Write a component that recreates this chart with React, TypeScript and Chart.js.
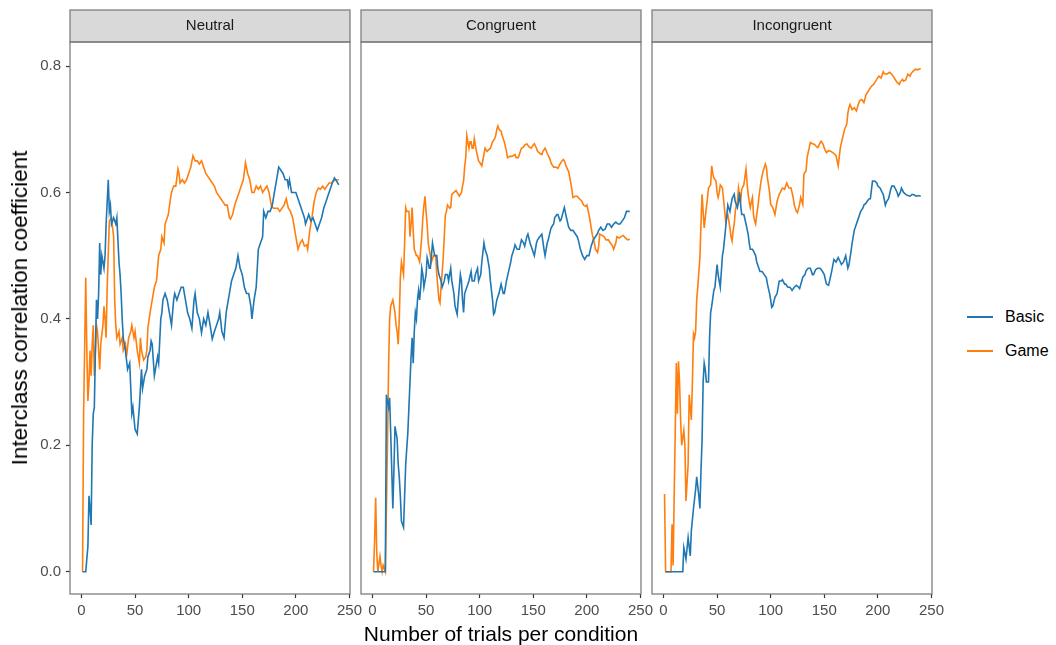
import { useEffect, useRef } from 'react';
import { Chart, registerables } from 'chart.js';

Chart.register(...registerables);

const FONT = '"Liberation Sans", Arial, Helvetica, sans-serif';

const facets = ['Neutral', 'Congruent', 'Incongruent'];
const seriesNames = ['Basic', 'Game'];
const seriesColors = ['#1f77b4', '#ff7f0e'];
const xTicks = [0, 50, 100, 150, 200, 250];
const yTicks = [0, 0.2, 0.4, 0.6, 0.8];
const xTitle = 'Number of trials per condition';
const yTitle = 'Interclass correlation coefficient';

type Pt = [number, number];

const neutralBasic: Pt[] = [[1,0],[4,0],[6,0.04],[7,0.12],[8,0.10],[9,0.074],[10,0.2],[11,0.25],[12,0.26],[13,0.35],[14,0.43],[15,0.40],[16,0.44],[17,0.52],[18,0.47],[19,0.50],[21,0.48],[22,0.50],[23,0.55],[25,0.62],[26,0.57],[27,0.58],[28,0.55],[30,0.56],[32,0.55],[33,0.56],[35,0.49],[36,0.47],[37,0.44],[38,0.40],[39,0.37],[41,0.35],[43,0.32],[45,0.33],[46,0.29],[47,0.25],[48,0.26],[50,0.225],[52,0.218],[54,0.26],[56,0.32],[57,0.29],[59,0.31],[61,0.32],[62,0.34],[64,0.35],[65,0.365],[66,0.36],[68,0.31],[69,0.32],[71,0.34],[72,0.33],[74,0.40],[75,0.41],[76,0.43],[78,0.44],[80,0.43],[82,0.41],[84,0.39],[86,0.43],[87,0.44],[89,0.43],[91,0.44],[93,0.45],[95,0.45],[97,0.43],[99,0.41],[101,0.40],[103,0.385],[105,0.43],[106,0.44],[108,0.41],[110,0.40],[112,0.378],[114,0.40],[116,0.39],[118,0.41],[120,0.39],[122,0.368],[124,0.38],[126,0.39],[128,0.40],[129,0.41],[131,0.38],[133,0.37],[135,0.41],[136,0.42],[138,0.44],[140,0.46],[142,0.47],[144,0.48],[146,0.50],[148,0.48],[150,0.47],[152,0.45],[154,0.44],[156,0.44],[158,0.42],[159,0.40],[161,0.43],[163,0.45],[165,0.51],[167,0.52],[169,0.53],[170,0.57],[172,0.56],[174,0.57],[176,0.57],[178,0.58],[180,0.60],[182,0.62],[184,0.64],[186,0.635],[188,0.63],[190,0.62],[192,0.62],[193,0.61],[194,0.62],[196,0.60],[198,0.60],[200,0.6],[202,0.59],[204,0.58],[206,0.57],[208,0.56],[209,0.55],[211,0.56],[212,0.565],[214,0.555],[216,0.56],[218,0.55],[220,0.54],[222,0.55],[224,0.56],[226,0.575],[228,0.585],[230,0.595],[232,0.605],[234,0.615],[236,0.623],[238,0.618],[240,0.612]];

const neutralGame: Pt[] = [[1,0],[2,0.25],[4,0.465],[5,0.35],[6,0.27],[7,0.30],[8,0.35],[9,0.31],[10,0.36],[11,0.39],[12,0.31],[13,0.35],[14,0.39],[15,0.38],[17,0.32],[18,0.36],[20,0.39],[21,0.42],[22,0.40],[23,0.37],[24,0.45],[26,0.555],[28,0.56],[30,0.53],[31,0.43],[32,0.39],[33,0.37],[35,0.38],[36,0.36],[38,0.37],[39,0.35],[41,0.36],[42,0.34],[44,0.37],[46,0.38],[47,0.39],[49,0.37],[50,0.38],[52,0.35],[54,0.33],[55,0.37],[56,0.35],[58,0.335],[60,0.34],[61,0.35],[62,0.386],[64,0.41],[66,0.43],[68,0.45],[70,0.46],[72,0.50],[74,0.51],[75,0.53],[77,0.52],[78,0.55],[80,0.56],[81,0.565],[83,0.59],[84,0.60],[86,0.61],[88,0.61],[90,0.637],[91,0.63],[92,0.615],[94,0.62],[96,0.615],[98,0.62],[100,0.63],[102,0.64],[104,0.658],[106,0.65],[108,0.65],[110,0.645],[112,0.65],[114,0.64],[116,0.63],[118,0.625],[120,0.62],[122,0.615],[124,0.61],[126,0.60],[128,0.595],[130,0.59],[132,0.585],[134,0.58],[136,0.58],[138,0.56],[139,0.558],[141,0.565],[143,0.58],[145,0.59],[147,0.60],[149,0.61],[151,0.62],[153,0.647],[155,0.63],[157,0.62],[159,0.60],[161,0.60],[163,0.61],[165,0.605],[167,0.61],[169,0.60],[171,0.605],[173,0.61],[175,0.60],[177,0.58],[179,0.575],[181,0.575],[183,0.575],[185,0.57],[187,0.575],[189,0.58],[191,0.59],[193,0.575],[195,0.57],[197,0.56],[199,0.54],[200,0.53],[202,0.51],[204,0.52],[206,0.525],[208,0.515],[210,0.517],[211,0.51],[213,0.54],[215,0.56],[217,0.585],[219,0.60],[221,0.607],[223,0.605],[225,0.61],[227,0.605],[229,0.61],[231,0.615],[233,0.615],[235,0.618],[237,0.62],[240,0.62]];

const congruentBasic: Pt[] = [[1,0],[12,0],[13,0.28],[15,0.26],[16,0.275],[17,0.22],[19,0.10],[20,0.16],[21,0.23],[22,0.22],[23,0.21],[24,0.17],[25,0.15],[26,0.12],[27,0.08],[29,0.07],[30,0.12],[31,0.17],[33,0.22],[34,0.26],[36,0.34],[37,0.37],[38,0.33],[39,0.38],[40,0.41],[41,0.40],[42,0.43],[43,0.445],[44,0.43],[45,0.45],[46,0.48],[47,0.47],[48,0.45],[49,0.46],[50,0.47],[51,0.497],[52,0.49],[53,0.48],[54,0.48],[55,0.50],[56,0.52],[57,0.51],[58,0.50],[60,0.50],[61,0.48],[62,0.47],[64,0.46],[65,0.45],[67,0.46],[68,0.47],[70,0.47],[71,0.46],[73,0.48],[74,0.46],[76,0.44],[77,0.42],[79,0.407],[80,0.43],[81,0.45],[82,0.47],[83,0.46],[84,0.43],[85,0.41],[86,0.44],[88,0.45],[90,0.46],[92,0.475],[93,0.46],[95,0.46],[96,0.47],[98,0.48],[99,0.46],[101,0.47],[102,0.49],[104,0.52],[105,0.51],[107,0.50],[109,0.48],[110,0.46],[112,0.43],[113,0.407],[114,0.41],[116,0.43],[118,0.44],[120,0.455],[122,0.44],[123,0.44],[125,0.46],[127,0.475],[129,0.49],[130,0.50],[132,0.51],[133,0.517],[135,0.51],[137,0.51],[139,0.525],[141,0.52],[142,0.515],[144,0.53],[145,0.534],[147,0.52],[149,0.51],[151,0.50],[153,0.52],[154,0.525],[156,0.53],[158,0.534],[160,0.51],[161,0.50],[163,0.52],[164,0.525],[166,0.54],[167,0.545],[169,0.55],[170,0.56],[172,0.565],[173,0.565],[175,0.555],[176,0.557],[178,0.57],[179,0.576],[181,0.56],[183,0.545],[185,0.54],[187,0.54],[189,0.535],[191,0.53],[192,0.525],[194,0.51],[196,0.50],[198,0.494],[200,0.50],[202,0.50],[204,0.515],[206,0.525],[208,0.53],[210,0.535],[211,0.54],[213,0.545],[215,0.54],[217,0.542],[219,0.55],[221,0.55],[223,0.545],[225,0.55],[227,0.553],[229,0.55],[231,0.55],[233,0.555],[235,0.56],[237,0.57],[240,0.57]];

const congruentGame: Pt[] = [[1,0],[2,0.05],[3,0.117],[4,0.03],[5,0],[7,0.024],[8,0.01],[9,0],[10,0.01],[12,0],[13,0.1],[14,0.2],[15,0.32],[16,0.40],[17,0.42],[19,0.43],[20,0.42],[21,0.41],[22,0.39],[23,0.38],[24,0.36],[25,0.40],[26,0.465],[27,0.49],[28,0.48],[29,0.47],[30,0.52],[31,0.576],[32,0.57],[34,0.57],[35,0.53],[36,0.55],[37,0.576],[38,0.54],[39,0.51],[41,0.50],[42,0.50],[44,0.49],[45,0.51],[46,0.53],[47,0.56],[48,0.58],[49,0.594],[50,0.57],[51,0.55],[52,0.52],[54,0.50],[55,0.49],[57,0.50],[59,0.50],[60,0.47],[62,0.43],[63,0.425],[64,0.45],[66,0.497],[67,0.53],[68,0.565],[69,0.57],[70,0.58],[72,0.575],[73,0.576],[74,0.597],[76,0.60],[78,0.603],[79,0.60],[81,0.594],[83,0.60],[84,0.61],[85,0.618],[86,0.64],[87,0.655],[88,0.69],[89,0.68],[90,0.67],[91,0.68],[92,0.68],[93,0.67],[94,0.67],[95,0.685],[96,0.675],[97,0.665],[99,0.65],[101,0.645],[102,0.642],[104,0.66],[105,0.67],[107,0.665],[108,0.667],[110,0.67],[112,0.68],[114,0.685],[115,0.69],[116,0.70],[117,0.705],[118,0.70],[120,0.697],[121,0.69],[123,0.68],[125,0.665],[126,0.655],[128,0.657],[130,0.657],[133,0.66],[134,0.655],[136,0.655],[138,0.665],[139,0.67],[141,0.672],[142,0.675],[144,0.677],[146,0.672],[148,0.67],[150,0.675],[151,0.677],[153,0.67],[154,0.665],[156,0.662],[158,0.66],[159,0.665],[161,0.67],[163,0.662],[165,0.655],[167,0.645],[169,0.64],[171,0.64],[173,0.638],[175,0.645],[176,0.648],[178,0.652],[179,0.65],[181,0.64],[183,0.633],[185,0.615],[186,0.605],[187,0.592],[189,0.594],[191,0.594],[193,0.59],[195,0.587],[197,0.58],[199,0.578],[200,0.58],[202,0.565],[203,0.555],[205,0.534],[207,0.52],[208,0.51],[210,0.505],[211,0.515],[212,0.534],[214,0.532],[216,0.53],[218,0.525],[220,0.525],[222,0.52],[224,0.515],[225,0.51],[227,0.52],[228,0.53],[230,0.528],[232,0.53],[234,0.532],[236,0.528],[238,0.525],[240,0.526]];

const incongruentBasic: Pt[] = [[2,0],[18,0],[19,0.038],[21,0.02],[23,0.054],[25,0.025],[26,0.065],[28,0.10],[30,0.13],[31,0.15],[33,0.12],[34,0.10],[35,0.16],[36,0.207],[37,0.30],[38,0.33],[39,0.32],[40,0.30],[42,0.30],[43,0.37],[44,0.41],[45,0.42],[47,0.445],[48,0.45],[50,0.486],[51,0.47],[53,0.45],[55,0.50],[56,0.51],[58,0.544],[60,0.58],[61,0.575],[62,0.57],[64,0.59],[66,0.597],[67,0.585],[69,0.576],[70,0.585],[71,0.60],[72,0.58],[73,0.565],[75,0.565],[77,0.55],[79,0.534],[80,0.52],[81,0.51],[83,0.51],[84,0.507],[86,0.50],[87,0.49],[89,0.48],[90,0.475],[92,0.475],[94,0.47],[96,0.465],[97,0.455],[99,0.44],[100,0.43],[101,0.418],[102,0.42],[104,0.434],[106,0.44],[108,0.46],[110,0.46],[111,0.462],[113,0.455],[114,0.455],[116,0.45],[118,0.45],[120,0.445],[122,0.45],[124,0.453],[126,0.45],[127,0.448],[129,0.46],[130,0.466],[132,0.47],[133,0.476],[135,0.48],[137,0.48],[139,0.47],[140,0.47],[142,0.478],[144,0.48],[146,0.48],[148,0.476],[150,0.47],[152,0.455],[154,0.453],[155,0.46],[157,0.476],[159,0.494],[161,0.49],[163,0.497],[165,0.49],[166,0.486],[168,0.49],[170,0.50],[172,0.48],[173,0.485],[175,0.507],[176,0.52],[178,0.54],[180,0.55],[181,0.555],[183,0.565],[184,0.57],[186,0.575],[187,0.58],[189,0.583],[190,0.586],[192,0.59],[193,0.59],[195,0.618],[197,0.618],[199,0.615],[200,0.61],[202,0.607],[204,0.6],[205,0.597],[207,0.58],[208,0.585],[210,0.59],[212,0.605],[213,0.61],[215,0.61],[216,0.607],[218,0.6],[219,0.594],[221,0.6],[222,0.607],[224,0.6],[226,0.597],[228,0.595],[230,0.594],[232,0.597],[234,0.596],[236,0.594],[238,0.595],[240,0.594]];

const incongruentGame: Pt[] = [[1,0.123],[2,0],[7,0],[8,0.075],[9,0.01],[10,0.12],[12,0.33],[13,0.25],[14,0.333],[15,0.3],[16,0.24],[17,0.20],[19,0.224],[20,0.20],[21,0.112],[22,0.14],[23,0.17],[24,0.28],[25,0.26],[26,0.24],[27,0.30],[28,0.376],[29,0.37],[30,0.38],[31,0.43],[32,0.45],[34,0.497],[35,0.55],[36,0.597],[37,0.57],[38,0.544],[39,0.56],[40,0.576],[41,0.59],[42,0.607],[44,0.612],[45,0.642],[46,0.63],[47,0.623],[49,0.618],[50,0.60],[51,0.592],[52,0.60],[53,0.612],[55,0.607],[56,0.59],[58,0.555],[59,0.56],[60,0.565],[62,0.544],[63,0.53],[64,0.523],[65,0.54],[66,0.55],[67,0.57],[68,0.58],[69,0.586],[70,0.607],[71,0.595],[72,0.586],[73,0.605],[75,0.612],[76,0.625],[77,0.637],[78,0.615],[79,0.597],[80,0.585],[81,0.576],[82,0.585],[83,0.592],[84,0.565],[85,0.555],[86,0.55],[87,0.565],[88,0.576],[89,0.592],[91,0.618],[93,0.634],[95,0.645],[96,0.64],[97,0.623],[99,0.60],[100,0.581],[102,0.576],[104,0.565],[106,0.586],[108,0.597],[109,0.60],[111,0.607],[113,0.605],[115,0.615],[117,0.607],[119,0.607],[121,0.592],[122,0.58],[124,0.57],[125,0.568],[127,0.581],[128,0.592],[130,0.581],[131,0.629],[133,0.634],[134,0.655],[136,0.671],[137,0.679],[139,0.677],[141,0.676],[143,0.672],[144,0.671],[146,0.678],[147,0.681],[149,0.676],[150,0.67],[152,0.663],[154,0.666],[156,0.665],[158,0.663],[160,0.66],[161,0.658],[162,0.65],[163,0.642],[165,0.671],[167,0.686],[169,0.70],[171,0.708],[172,0.725],[173,0.734],[174,0.739],[176,0.731],[178,0.734],[180,0.729],[181,0.735],[183,0.745],[185,0.747],[187,0.742],[189,0.755],[191,0.76],[192,0.763],[194,0.768],[196,0.771],[198,0.776],[200,0.782],[201,0.784],[203,0.781],[205,0.791],[206,0.788],[208,0.787],[210,0.789],[211,0.79],[213,0.787],[215,0.782],[216,0.779],[218,0.774],[220,0.771],[221,0.775],[223,0.779],[224,0.776],[226,0.778],[228,0.787],[230,0.784],[231,0.788],[233,0.792],[235,0.795],[237,0.794],[240,0.796]];

const facetData: Pt[][][] = [
  [neutralBasic, neutralGame],
  [congruentBasic, congruentGame],
  [incongruentBasic, incongruentGame],
];

const X_MIN = -10.7;
const X_MAX = 250.5;
const Y_MIN = -0.0353;
const Y_MAX = 0.838;

const PANEL_LEFTS = [70, 361, 652];
const PANEL_W = 280;
const STRIP_TOP = 10;
const BORDER = '#7f7f7f';

const stripPlugin = {
  id: 'stripBg',
  beforeDraw(chart: any) {
    const { ctx, chartArea } = chart;
    const { left, right, top } = chartArea;
    ctx.save();
    ctx.fillStyle = '#d9d9d9';
    ctx.fillRect(left, STRIP_TOP, right - left, top - STRIP_TOP);
    ctx.strokeStyle = BORDER;
    ctx.lineWidth = 1.3;
    ctx.strokeRect(left, STRIP_TOP, right - left, top - STRIP_TOP);
    ctx.restore();
  },
};

const borderPlugin = {
  id: 'panelBorder',
  afterDatasetsDraw(chart: any) {
    const { ctx, chartArea } = chart;
    const { left, right, top, bottom } = chartArea;
    ctx.save();
    ctx.strokeStyle = BORDER;
    ctx.lineWidth = 1.3;
    ctx.strokeRect(left, top, right - left, bottom - top);
    ctx.restore();
  },
};

function Panel({ index }: { index: number }) {
  const ref = useRef<HTMLCanvasElement | null>(null);
  const first = index === 0;
  const padLeft = first ? 0 : 10;
  const padRight = 16;
  const canvasLeft = first ? 0 : PANEL_LEFTS[index] - padLeft;
  const canvasWidth = first ? PANEL_LEFTS[0] + PANEL_W + padRight : padLeft + PANEL_W + padRight;

  useEffect(() => {
    const tickFont = { family: FONT, size: 15 };
    const yScale: any = {
      type: 'linear',
      display: first,
      min: Y_MIN,
      max: Y_MAX,
      afterBuildTicks: (s: any) => { s.ticks = yTicks.map((v) => ({ value: v })); },
      ticks: { color: '#4d4d4d', font: tickFont, padding: 5, autoSkip: false, callback: (v: any) => Number(v).toFixed(1) },
      grid: { drawOnChartArea: false, drawTicks: true, tickLength: 4, tickColor: '#333333', tickWidth: 1.2 },
      border: { display: false },
    };
    if (first) yScale.afterFit = (s: any) => { s.width = PANEL_LEFTS[0]; };
    const chart = new Chart(ref.current as HTMLCanvasElement, {
      type: 'line',
      data: {
        datasets: seriesNames.map((name, i) => ({
          label: name,
          data: facetData[index][i].map(([x, y]) => ({ x, y })),
          borderColor: seriesColors[i],
          backgroundColor: seriesColors[i],
          borderWidth: 1.6,
          pointRadius: 0,
          fill: false,
          tension: 0,
        })),
      },
      options: {
        responsive: false,
        animation: false,
        events: [],
        parsing: false,
        layout: { padding: { left: padLeft, right: padRight, top: 0, bottom: 0 } },
        plugins: {
          legend: { display: false },
          tooltip: { enabled: false },
          title: {
            display: true,
            text: facets[index],
            fullSize: false,
            color: '#1a1a1a',
            font: { family: FONT, size: 15, weight: 'normal', lineHeight: '32px' },
            padding: { top: STRIP_TOP, bottom: 0 },
          },
        },
        scales: {
          x: {
            type: 'linear',
            min: X_MIN,
            max: X_MAX,
            afterFit: (s: any) => { s.height = 51; },
            afterBuildTicks: (s: any) => { s.ticks = xTicks.map((v) => ({ value: v })); },
            ticks: { color: '#4d4d4d', font: tickFont, padding: 4, maxRotation: 0, autoSkip: false, callback: (v: any) => String(v) },
            grid: { drawOnChartArea: false, drawTicks: true, tickLength: 4, tickColor: '#333333', tickWidth: 1.2 },
            border: { display: false },
          },
          y: yScale,
        },
      } as any,
      plugins: [stripPlugin, borderPlugin],
    });
    return () => chart.destroy();
  }, [index]);

  return (
    <canvas
      ref={ref}
      width={canvasWidth}
      height={645}
      style={{ position: 'absolute', left: canvasLeft, top: 0, width: canvasWidth, height: 645 }}
    />
  );
}

export default function App() {
  return (
    <div style={{ position: 'absolute', left: 0, top: 0, width: 1056, height: 645, background: '#ffffff', overflow: 'hidden', fontFamily: FONT }}>
      {facets.map((_, i) => <Panel key={i} index={i} />)}
      <div style={{ position: 'absolute', left: 20, top: 308, transform: 'translate(-50%, -50%) rotate(-90deg)', whiteSpace: 'nowrap', fontSize: 22.5, color: '#000' }}>{yTitle}</div>
      <div style={{ position: 'absolute', left: 501, top: 634, transform: 'translate(-50%, -50%)', whiteSpace: 'nowrap', fontSize: 21, color: '#000' }}>{xTitle}</div>
      {seriesNames.map((name, i) => (
        <div key={name} style={{ position: 'absolute', left: 967, top: 317 + i * 34, transform: 'translateY(-50%)', display: 'flex', alignItems: 'center' }}>
          <div style={{ width: 26, height: 2, background: seriesColors[i] }} />
          <span style={{ marginLeft: 12, fontSize: 16, color: '#000', lineHeight: '18px' }}>{name}</span>
        </div>
      ))}
    </div>
  );
}
